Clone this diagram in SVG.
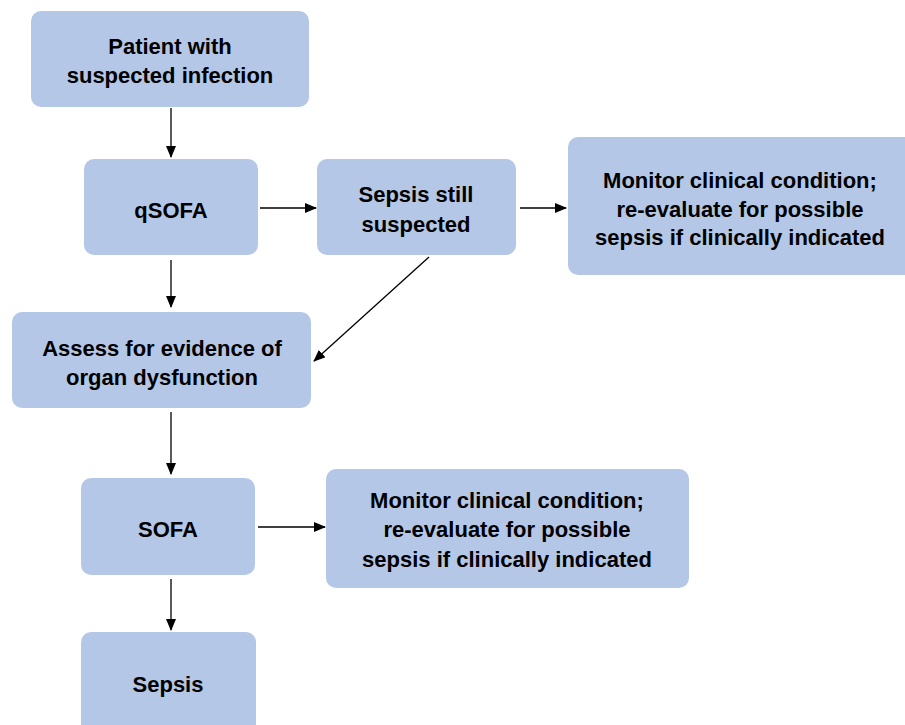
<svg xmlns="http://www.w3.org/2000/svg" width="905" height="725" viewBox="0 0 905 725">
<defs>
<marker id="ah" markerWidth="12" markerHeight="10" refX="11" refY="5" orient="auto" markerUnits="userSpaceOnUse">
<path d="M0,0 L12,5 L0,10 Z" fill="#000"/>
</marker>
<style>
.box{fill:#b4c7e7;}
.t{font-family:"Liberation Sans",Arial,sans-serif;font-weight:bold;font-size:22px;fill:#000;text-anchor:middle;}
.c{stroke:#000;stroke-width:1.3;fill:none;marker-end:url(#ah);}
</style>
</defs>
<rect width="905" height="725" fill="#fff"/>
<g id="n1"><rect class="box" x="31" y="11" width="278" height="96" rx="10"/>
<text class="t" x="170" y="54">Patient with</text><text class="t" x="170" y="83">suspected infection</text></g>
<g id="n2"><rect class="box" x="84" y="159" width="174" height="96" rx="10"/>
<text class="t" x="171" y="218">qSOFA</text></g>
<g id="n3"><rect class="box" x="317" y="159" width="199" height="96" rx="10"/>
<text class="t" x="416" y="202">Sepsis still</text><text class="t" x="416" y="232">suspected</text></g>
<g id="n4"><rect class="box" x="568" y="137" width="347" height="138" rx="10"/>
<text class="t" x="740" y="188">Monitor clinical condition;</text><text class="t" x="740" y="217">re-evaluate for possible</text><text class="t" x="740" y="245">sepsis if clinically indicated</text></g>
<g id="n5"><rect class="box" x="12" y="312" width="299" height="96" rx="10"/>
<text class="t" x="162" y="356">Assess for evidence of</text><text class="t" x="162" y="385">organ dysfunction</text></g>
<g id="n6"><rect class="box" x="81" y="478" width="174" height="97" rx="10"/>
<text class="t" x="168" y="537">SOFA</text></g>
<g id="n7"><rect class="box" x="326" y="469" width="363" height="119" rx="10"/>
<text class="t" x="507" y="508">Monitor clinical condition;</text><text class="t" x="507" y="537">re-evaluate for possible</text><text class="t" x="507" y="567">sepsis if clinically indicated</text></g>
<g id="n8"><rect class="box" x="81" y="632" width="175" height="110" rx="10"/>
<text class="t" x="168" y="692">Sepsis</text></g>
<g id="connectors">
<line class="c" x1="171" y1="108" x2="171" y2="157"/>
<line class="c" x1="171" y1="260" x2="171" y2="307"/>
<line class="c" x1="171" y1="412" x2="171" y2="474"/>
<line class="c" x1="171" y1="579" x2="171" y2="630"/>
<line class="c" x1="260" y1="208" x2="316" y2="208"/>
<line class="c" x1="520" y1="208" x2="566" y2="208"/>
<line class="c" x1="258" y1="527" x2="325" y2="527"/>
<line class="c" x1="429" y1="257" x2="314" y2="361"/>
</g>
</svg>
